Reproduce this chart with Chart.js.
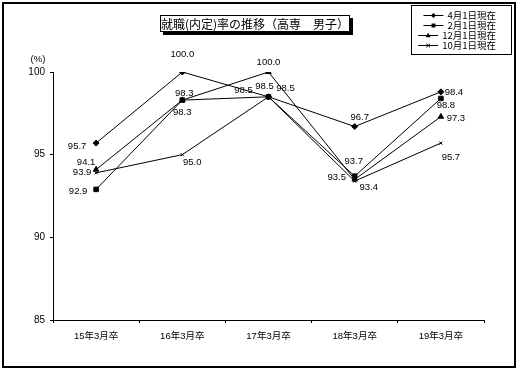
<!DOCTYPE html>
<html><head><meta charset="utf-8">
<script src="https://cdn.jsdelivr.net/npm/chart.js@4"></script>
<style>html,body{margin:0;padding:0;background:#fff}#wrap{width:518px;height:371px;position:relative}</style>
</head><body><div id="wrap"><canvas id="c" width="518" height="371"></canvas></div>
<script>
const categories = ['15年3月卒','16年3月卒','17年3月卒','18年3月卒','19年3月卒'];
const seriesNames = ['4月1日現在','2月1日現在','12月1日現在','10月1日現在'];
const apr = [95.7, 100.0, 98.5, 96.7, 98.8];
const feb = [92.9, 98.3, 98.5, 93.7, 98.4];
const dec = [94.1, 98.3, 100.0, 93.5, 97.3];
const oct = [93.9, 95.0, 98.5, 93.4, 95.7];
const yTicks = [85, 90, 95, 100];
const titleText = '就職(内定)率の推移（高専　男子）';
const unitText = '(%)';

// label placement offsets (styling only)
const labelOffsets = [
  [[-19,3],[0,-18],[-25,-6],[5,-9],[5,14]],
  [[-18,2],[2,-7],[-4,-10],[-1,-15],[13,-6]],
  [[-10,-7],[0,12],[0,-10],[-18,-2],[15,2]],
  [[-14,0],[10,8],[17,-8],[14,6],[10,14]]
];
const styles = ['rectRot','rect','triangle','crossRot'];
const radii = [3,3.2,3.2,2.2];
const FONT = "'Liberation Sans','Noto Sans CJK JP',sans-serif";
const CJK = "'Noto Sans CJK JP','Liberation Sans',sans-serif";

function marker(ctx, style, x, y, r){
  ctx.save();
  ctx.fillStyle='#000'; ctx.strokeStyle='#000'; ctx.lineWidth=1;
  ctx.beginPath();
  if(style==='rectRot'){ctx.moveTo(x,y-r);ctx.lineTo(x+r,y);ctx.lineTo(x,y+r);ctx.lineTo(x-r,y);ctx.closePath();ctx.fill();}
  else if(style==='rect'){const s=r*0.72;ctx.rect(x-s,y-s,2*s,2*s);ctx.fill();}
  else if(style==='triangle'){ctx.moveTo(x,y-r);ctx.lineTo(x+r*0.9,y+r*0.6);ctx.lineTo(x-r*0.9,y+r*0.6);ctx.closePath();ctx.fill();}
  else {ctx.moveTo(x-r,y-r);ctx.lineTo(x+r,y+r);ctx.moveTo(x+r,y-r);ctx.lineTo(x-r,y+r);ctx.stroke();}
  ctx.restore();
}

const decor = {
  id:'decor',
  afterDatasetsDraw(chart){
    const ctx = chart.ctx;
    ctx.save();
    ctx.fillStyle='#000';
    ctx.font = '9.5px '+FONT;
    ctx.textAlign='center'; ctx.textBaseline='middle';
    chart.data.datasets.forEach((ds,i)=>{
      const meta = chart.getDatasetMeta(i);
      meta.data.forEach((pt,j)=>{
        const o = labelOffsets[i][j];
        ctx.fillText(ds.data[j].toFixed(1), pt.x+o[0], pt.y+o[1]);
      });
    });
    ctx.restore();
  },
  afterDraw(chart){
    const ctx = chart.ctx;
    ctx.save();
    ctx.strokeStyle='#000'; ctx.lineWidth=2;
    ctx.strokeRect(3,3,512,364);
    ctx.fillStyle='#000';
    ctx.fillRect(163,18,190,17);
    ctx.fillStyle='#fff';
    ctx.fillRect(160,15,190,17);
    ctx.lineWidth=1;
    ctx.strokeRect(160.5,15.5,189,16);
    ctx.fillStyle='#000';
    ctx.font='12px '+CJK;
    ctx.textAlign='center'; ctx.textBaseline='middle';
    ctx.fillText(titleText,255,24);
    ctx.font='9.5px '+FONT;
    ctx.fillText(unitText,38,59);
    ctx.fillStyle='#fff';
    ctx.fillRect(411,5,101,49);
    ctx.strokeStyle='#000'; ctx.lineWidth=1;
    ctx.strokeRect(411.5,5.5,100,49);
    ctx.font='9.5px '+CJK;
    ctx.textAlign='right';
    ctx.fillStyle='#000';
    chart.data.datasets.forEach((ds,i)=>{
      const y = 15 + i*10;
      const w = ctx.measureText(ds.label).width;
      const tl = 496 - w;
      ctx.fillText(ds.label, 496, y);
      ctx.beginPath(); ctx.moveTo(tl-24,y+0.5); ctx.lineTo(tl-4,y+0.5); ctx.lineWidth=1; ctx.stroke();
      marker(ctx, styles[i], tl-14, y+0.5, radii[i]*0.85);
    });
    ctx.restore();
  }
};

const seriesData = [apr, feb, dec, oct];
new Chart(document.getElementById('c'), {
  type:'line',
  data:{
    labels: categories,
    datasets: seriesData.map((d,i)=>({
      label: seriesNames[i], data: d,
      borderColor:'#000', borderWidth:1, tension:0, fill:false,
      pointStyle: styles[i], pointRadius: radii[i], pointHoverRadius: radii[i],
      pointBackgroundColor:'#000', pointBorderColor:'#000', pointBorderWidth:1
    }))
  },
  options:{
    responsive:false, animation:false, devicePixelRatio:1,
    layout:{padding:{top:72,right:34,bottom:0,left:0}},
    plugins:{legend:{display:false}, title:{display:false}, tooltip:{enabled:false}},
    scales:{
      x:{
        offset:true,
        grid:{display:true, drawOnChartArea:false, drawTicks:true, tickLength:3, color:'#000', offset:true},
        border:{color:'#000', width:1},
        ticks:{color:'#000', font:{size:9.5, family:FONT}, padding:8, maxRotation:0, autoSkip:false},
        afterFit(s){ s.height = 51; }
      },
      y:{
        min:85, max:100,
        afterBuildTicks(s){ s.ticks = yTicks.map(v=>({value:v})); },
        grid:{display:true, drawOnChartArea:false, drawTicks:true, tickLength:3, color:'#000'},
        border:{color:'#000', width:1},
        ticks:{color:'#000', font:{size:10, family:FONT}, padding:5},
        afterFit(s){ s.width = 53; }
      }
    }
  },
  plugins:[decor]
});
</script></body></html>
